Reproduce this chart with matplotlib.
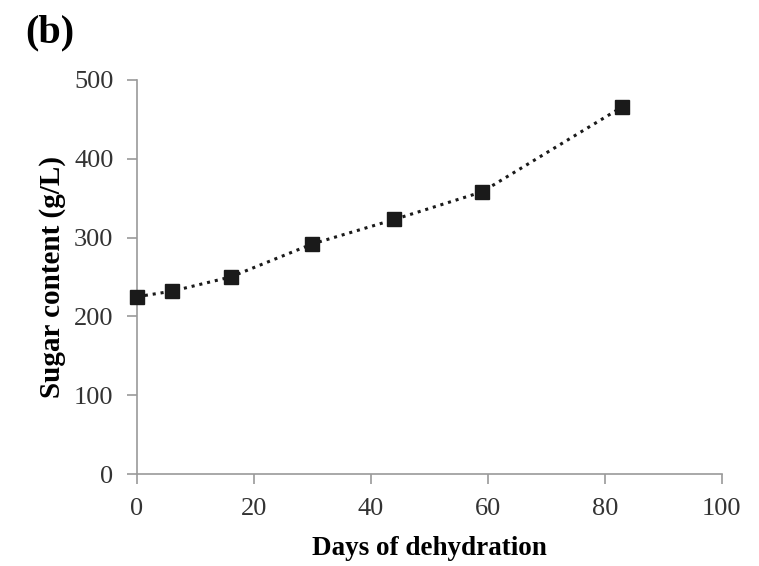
import matplotlib
matplotlib.use("Agg")
import matplotlib.pyplot as plt

# ── Data ──
days = [0, 6, 16, 30, 44, 59, 83]
sugar = [225, 232, 250, 292, 323, 358, 466]

x_ticks = [0, 20, 40, 60, 80, 100]
y_ticks = [0, 100, 200, 300, 400, 500]

plt.rcParams["font.family"] = ["Liberation Serif", "DejaVu Serif"]

fig = plt.figure(figsize=(7.59, 5.66), dpi=100)
ax = fig.add_axes([0.1805, 0.1625, 0.7705, 0.6962])

ax.plot(days, sugar, color="#1a1a1a", linestyle=(0, (1, 1.6)), linewidth=2.2,
        marker="s", markersize=10, markerfacecolor="#1a1a1a", markeredgecolor="#1a1a1a",
        clip_on=False, zorder=3)

ax.set_xlim(0, 100)
ax.set_ylim(0, 500)
ax.set_xticks(x_ticks)
ax.set_yticks(y_ticks)

for side in ["top", "right"]:
    ax.spines[side].set_visible(False)
for side in ["left", "bottom"]:
    ax.spines[side].set_color("#9a9a9a")
    ax.spines[side].set_linewidth(1.2)

ax.tick_params(axis="both", direction="out", length=7, width=1.2, color="#9a9a9a",
               labelsize=19, labelcolor="#333333")
ax.tick_params(axis="y", pad=10)
ax.tick_params(axis="x", pad=10)

ax.set_xlabel("Days of dehydration", fontsize=19.5, fontweight="bold", labelpad=12)
ax.set_ylabel("Sugar content (g/L)", fontsize=21, fontweight="bold", labelpad=6)

fig.text(0.033, 0.975, "(b)", fontsize=29, fontweight="bold", va="top", ha="left")

fig.savefig("out.png", dpi=100)
